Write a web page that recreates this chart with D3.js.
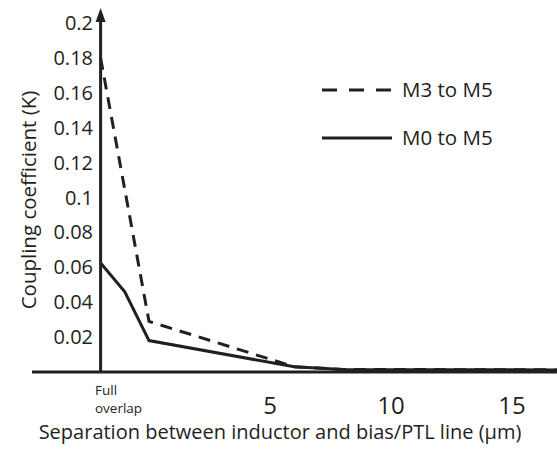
<!DOCTYPE html>
<html>
<head>
<meta charset="utf-8">
<script src="https://cdn.jsdelivr.net/npm/d3@7"></script>
<style>
  body { margin: 0; background: #fff; }
  text { font-family: "Open Sans", sans-serif; fill: #231f20; }
  .line { fill: none; stroke: #231f20; stroke-width: 3; }
  .dashed { stroke-dasharray: 12, 8; }
</style>
</head>
<body>
<div id="chart"></div>
<script>
var w = 557;
var h = 454;

// separation in um; "Full overlap" is placed at -2 on the axis
var sepM3 = [-2, 0, 6, 8, 17];
var kM3 = [0.18, 0.029, 0.003, 0.0015, 0.0012];
var sepM0 = [-2, -1, 0, 6, 8, 17];
var kM0 = [0.0625, 0.046, 0.018, 0.003, 0.0015, 0.0012];

var xTicks = [5, 10, 15];
var yTicks = [0.02, 0.04, 0.06, 0.08, 0.1, 0.12, 0.14, 0.16, 0.18, 0.2];
var fullOverlapX = -2;

var svg = d3.select("#chart").append("svg").attr("width", w).attr("height", h);

var xScale = d3.scaleLinear().domain([5, 15]).range([270, 512]);
var yScale = d3.scaleLinear().domain([0, 0.2]).range([372, 23]);

var line = d3.line()
    .x(function (d) { return xScale(d[0]); })
    .y(function (d) { return yScale(d[1]); });

var m3 = d3.zip(sepM3, kM3);
var m0 = d3.zip(sepM0, kM0);

svg.append("path").datum(m3).attr("class", "line dashed").attr("d", line);
svg.append("path").datum(m0).attr("class", "line").attr("d", line);

// axes
var x0 = xScale(fullOverlapX);
svg.append("line")
    .attr("x1", 32).attr("x2", w)
    .attr("y1", yScale(0)).attr("y2", yScale(0))
    .attr("stroke", "#231f20").attr("stroke-width", 3);

svg.append("line")
    .attr("x1", x0).attr("x2", x0)
    .attr("y1", yScale(0) + 1).attr("y2", 18)
    .attr("stroke", "#231f20").attr("stroke-width", 3);

svg.append("path")
    .attr("d", "M" + x0 + ",8 L" + (x0 - 5) + ",22 L" + (x0 + 5) + ",22 Z")
    .attr("fill", "#231f20");

// y tick labels
svg.selectAll(".ylab").data(yTicks).enter().append("text")
    .attr("x", 93)
    .attr("y", function (d) { return yScale(d); })
    .attr("dy", "0.35em")
    .attr("text-anchor", "end")
    .style("font-size", "20px")
    .text(function (d) { return d3.format("")(+d.toFixed(2)); });

// x tick labels
svg.selectAll(".xlab").data(xTicks).enter().append("text")
    .attr("x", function (d) { return xScale(d); })
    .attr("y", 414)
    .attr("text-anchor", "middle")
    .style("font-size", "24px")
    .text(function (d) { return d; });

svg.append("text")
    .attr("x", 95).attr("y", 395)
    .style("font-size", "13.5px")
    .text("Full");
svg.append("text")
    .attr("x", 95).attr("y", 413)
    .style("font-size", "13.5px")
    .text("overlap");

// axis titles
svg.append("text")
    .attr("x", 280).attr("y", 439)
    .attr("text-anchor", "middle")
    .style("font-size", "20px")
    .text("Separation between inductor and bias/PTL line (\u03bcm)");

svg.append("text")
    .attr("transform", "translate(36,200) rotate(-90)")
    .attr("text-anchor", "middle")
    .style("font-size", "20.5px")
    .text("Coupling coefficient (K)");

// legend
var legend = [["M3 to M5", true], ["M0 to M5", false]];
legend.forEach(function (d, i) {
    var ly = 90 + i * 48;
    svg.append("line")
        .attr("class", d[1] ? "line dashed" : "line")
        .attr("x1", 322).attr("x2", 392)
        .attr("y1", ly).attr("y2", ly)
        .style("stroke-dasharray", d[1] ? "15,12" : null);
    svg.append("text")
        .attr("x", 402).attr("y", ly)
        .attr("dy", "0.35em")
        .style("font-size", "20.5px")
        .text(d[0]);
});
</script>
</body>
</html>
